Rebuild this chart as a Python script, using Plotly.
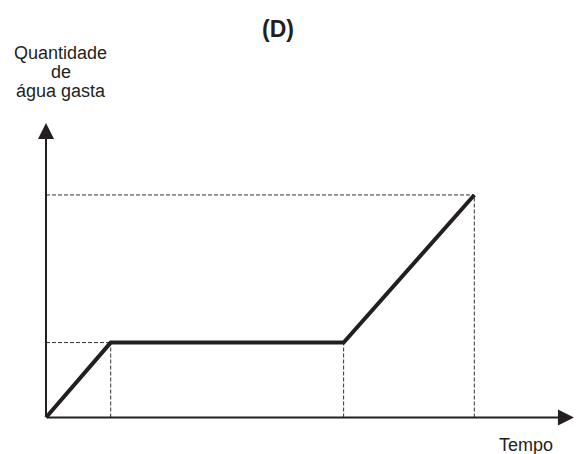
import plotly.graph_objects as go

# Data (time units vs quantity of water used)
tempo = [0, 1, 4.6, 6.62]
quantidade = [0, 1, 1, 2.97]

title_text = "(D)"
y_label_lines = ["Quantidade", "de", "água gasta"]
x_label = "Tempo"

W, H = 578, 454
ink = "#231f20"
FONT = "Liberation Sans, Arial, sans-serif"

fig = go.Figure()

# dashed guide lines
dash_style = dict(color="#333333", width=1, dash="4px,2px")
for i in [1, 3]:
    fig.add_trace(go.Scatter(x=[0, tempo[i]], y=[quantidade[i], quantidade[i]],
                             mode="lines", line=dash_style, hoverinfo="skip"))
for i in [1, 2, 3]:
    fig.add_trace(go.Scatter(x=[tempo[i], tempo[i]], y=[0, quantidade[i]],
                             mode="lines", line=dash_style, hoverinfo="skip"))

# main line
fig.add_trace(go.Scatter(x=tempo, y=quantidade, mode="lines",
                         line=dict(color=ink, width=4), hoverinfo="skip"))

x_end = 8.16
y_end = 3.93
fig.add_annotation(x=x_end, y=0, ax=0, ay=0, xref="x", yref="y", axref="x", ayref="y",
                   text="", showarrow=True, arrowhead=2, arrowsize=1.6, arrowwidth=2,
                   arrowcolor=ink, standoff=0)
fig.add_annotation(x=0, y=y_end, ax=0, ay=0, xref="x", yref="y", axref="x", ayref="y",
                   text="", showarrow=True, arrowhead=2, arrowsize=1.6, arrowwidth=2,
                   arrowcolor=ink, standoff=0)

fig.add_annotation(x=278 / W, y=1 - 29 / H, xref="paper", yref="paper", text="<b>" + title_text + "</b>",
                   showarrow=False, font=dict(family=FONT, size=23, color=ink),
                   xanchor="center", yanchor="middle")
for line, py in zip(y_label_lines, [53, 72, 91]):
    fig.add_annotation(x=61 / W, y=1 - py / H, xref="paper", yref="paper", text=line,
                       showarrow=False, font=dict(family=FONT, size=18, color=ink),
                       xanchor="center", yanchor="middle")
fig.add_annotation(x=526 / W, y=1 - 445 / H, xref="paper", yref="paper", text=x_label,
                   showarrow=False, font=dict(family=FONT, size=18, color=ink),
                   xanchor="center", yanchor="middle")

sx = 64.7
sy = 74.93
x0p, y0p = 46, 417.5
fig.update_layout(
    width=W, height=H, margin=dict(l=0, r=0, t=0, b=0),
    paper_bgcolor="white", plot_bgcolor="white", showlegend=False,
    xaxis=dict(range=[-x0p / sx, (W - x0p) / sx], visible=False, fixedrange=True),
    yaxis=dict(range=[-(H - y0p) / sy, y0p / sy], visible=False, fixedrange=True),
)

fig.write_html("out.html", config={"displayModeBar": False},
               post_script="document.body.style.margin='0';document.body.style.overflow='hidden';")
